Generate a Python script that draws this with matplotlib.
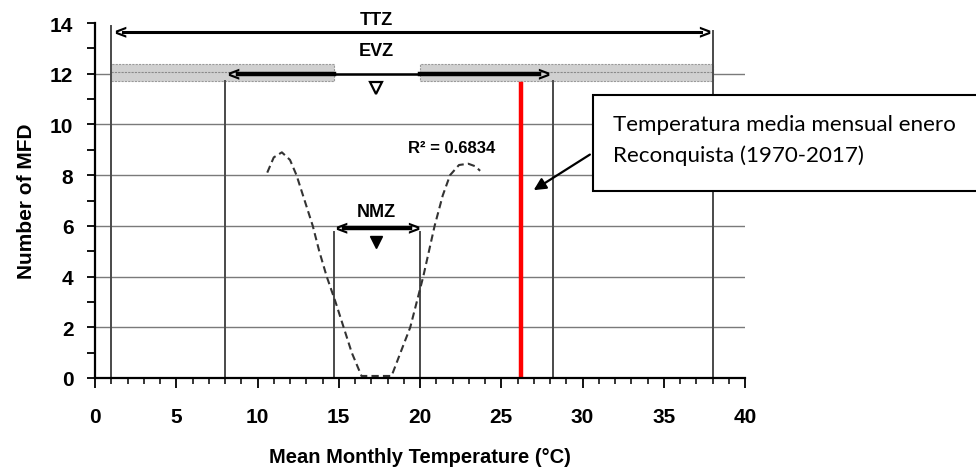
import matplotlib
matplotlib.use("Agg")
import matplotlib.pyplot as plt
from matplotlib.patches import Rectangle

# fitted curve
curve_x = [10.6, 11.0, 11.5, 12.0, 12.4, 12.9, 13.4, 13.8, 14.26, 14.8, 15.3, 15.8, 16.4,
           17.3, 18.25, 18.8, 19.4, 20.2, 20.9, 21.4, 21.85, 22.4, 22.97, 23.4, 23.7]
curve_y = [8.1, 8.7, 8.9, 8.6, 8.0, 7.0, 6.0, 5.0, 4.0, 3.0, 2.0, 1.0, 0.08,
           0.08, 0.08, 1.0, 2.0, 4.0, 6.0, 7.2, 8.0, 8.4, 8.45, 8.35, 8.17]

# zone limits
ttz = (1.0, 38.0)
evz = (8.0, 28.2)
nmz = (14.7, 20.0)
ttz_top = (13.9, 13.7)
evz_top = 11.7
nmz_top = 5.75
reconquista_jan = 26.2
red_top = 11.6
r2_label = "R² = 0.6834"
box_lines = ["Temperatura media mensual enero", "Reconquista (1970-2017)"]

xticks = list(range(0, 41, 5))
yticks = list(range(0, 15, 2))

W, H = 976, 477
fig = plt.figure(figsize=(W / 100, H / 100), dpi=100)
ax = fig.add_axes([95 / W, 1 - 379 / H, 650 / W, 355 / H])
ax.set_xlim(0, 40)
ax.set_ylim(0, 14)

bold = dict(family="Liberation Sans", weight="bold")

# horizontal grid
for yv in yticks[1:-1]:
    ax.axhline(yv, color="#7a7a7a", lw=1.0, zorder=1)

# grey EVZ bands
band_lo, band_hi = 11.72, 12.38
for x0, x1 in [(ttz[0], nmz[0]), (nmz[1], ttz[1])]:
    ax.add_patch(Rectangle((x0, band_lo), x1 - x0, band_hi - band_lo,
                           facecolor="#d0d0d0", edgecolor="#9a9a9a", lw=0.8,
                           linestyle=(0, (2, 1)), zorder=2))
    ax.plot([x0, x1], [12.05, 12.05], color="#8a8a8a", lw=0.8, ls=(0, (2, 1)), zorder=2)

# vertical zone lines
vcol = "#4a4a4a"
ax.plot([ttz[0], ttz[0]], [0, ttz_top[0]], color=vcol, lw=1.4, zorder=3)
ax.plot([ttz[1], ttz[1]], [0, ttz_top[1]], color=vcol, lw=1.4, zorder=3)
for xv in evz:
    ax.plot([xv, xv], [0, evz_top], color=vcol, lw=1.4, zorder=3)
for xv in nmz:
    ax.plot([xv, xv], [0, nmz_top], color=vcol, lw=1.4, zorder=3)

# TTZ arrow
ax.plot([ttz[0] + 0.7, ttz[1] - 0.7], [13.63, 13.63], color="black", lw=2.2, zorder=4)
ax.text(ttz[0] + 0.55, 13.63, "<", ha="center", va="center", fontsize=15, **bold, zorder=4)
ax.text(ttz[1] - 0.5, 13.63, ">", ha="center", va="center", fontsize=15, **bold, zorder=4)
ax.text(17.3, 14.15, "TTZ", ha="center", va="center", fontsize=13, clip_on=False, **bold)

# EVZ arrow
ax.plot([evz[0] + 0.8, nmz[0]], [12.0, 12.0], color="black", lw=3.2, zorder=4)
ax.plot([nmz[0], nmz[1]], [12.0, 12.0], color="black", lw=1.8, zorder=4)
ax.plot([nmz[1], evz[1] - 0.9], [12.0, 12.0], color="black", lw=3.2, zorder=4)
ax.text(evz[0] + 0.5, 11.97, "<", ha="center", va="center", fontsize=15, **bold, zorder=4)
ax.text(evz[1] - 0.6, 11.97, ">", ha="center", va="center", fontsize=15, **bold, zorder=4)
ax.text(17.3, 12.9, "EVZ", ha="center", va="center", fontsize=13, **bold)
ax.plot([17.3], [11.45], marker="v", ms=8, mfc="white", mec="black", mew=1.6, zorder=5)

# NMZ arrow
ax.plot([nmz[0] + 0.6, nmz[1] - 0.6], [5.92, 5.92], color="black", lw=3.2, zorder=4)
ax.text(nmz[0] + 0.45, 5.9, "<", ha="center", va="center", fontsize=15, **bold, zorder=4)
ax.text(nmz[1] - 0.45, 5.9, ">", ha="center", va="center", fontsize=15, **bold, zorder=4)
ax.text(17.3, 6.55, "NMZ", ha="center", va="center", fontsize=13, **bold)
ax.plot([17.3], [5.35], marker="v", ms=9, color="black", zorder=5)

# fitted curve
ax.plot(curve_x, curve_y, color="#333333", lw=1.5, ls=(0, (3.5, 2)), zorder=5)
ax.text(21.95, 9.1, r2_label, ha="center", va="center", fontsize=12, **bold)

# red line
ax.plot([reconquista_jan, reconquista_jan], [0, red_top], color="#ff0000", lw=3.2, zorder=6)

# axes styling
for s in ["top", "right"]:
    ax.spines[s].set_visible(False)
for s in ["left", "bottom"]:
    ax.spines[s].set_linewidth(1.6)
    ax.spines[s].set_zorder(7)
ax.set_xticks(xticks)
ax.set_xticks(range(0, 41), minor=True)
ax.set_yticks(yticks)
ax.set_yticks(range(1, 14, 2), minor=True)
ax.tick_params(axis="x", which="major", length=7.2, width=1.3, pad=13.5, labelsize=15)
ax.tick_params(axis="x", which="minor", length=4.3, width=1.1)
ax.tick_params(axis="y", which="both", length=6, width=1.3, labelsize=15, pad=9.5)
for lab in ax.get_xticklabels() + ax.get_yticklabels():
    lab.set_fontfamily("Liberation Sans")
    lab.set_fontweight("bold")
ax.set_xlabel("Mean Monthly Temperature (°C)", fontsize=14.5, labelpad=15, **bold)
ax.set_ylabel("Number of MFD", fontsize=15, labelpad=10, **bold)

# callout box
fig.patches.append(Rectangle((593 / W, 1 - 192 / H), 0.45, 96 / H, transform=fig.transFigure,
                             facecolor="white", edgecolor="black", lw=1.5, zorder=10))
t1 = fig.text(613 / W, 1 - 131 / H, box_lines[0], ha="left", va="baseline",
              fontsize=16, family="Lato", zorder=11)
t2 = fig.text(613 / W, 1 - 162 / H, box_lines[1], ha="left", va="baseline",
              fontsize=16, family="Lato", zorder=11)
fig.canvas.draw()
w1 = t1.get_window_extent(fig.canvas.get_renderer()).width
fs = 16 * 344 / w1
t1.set_fontsize(fs)
t2.set_fontsize(fs)
ax.annotate("", xy=(26.85, 7.35), xytext=(30.6, 8.87),
            arrowprops=dict(arrowstyle="-|>", color="black", lw=1.6, mutation_scale=18),
            annotation_clip=False, zorder=12)

fig.savefig("out.png", dpi=100)
